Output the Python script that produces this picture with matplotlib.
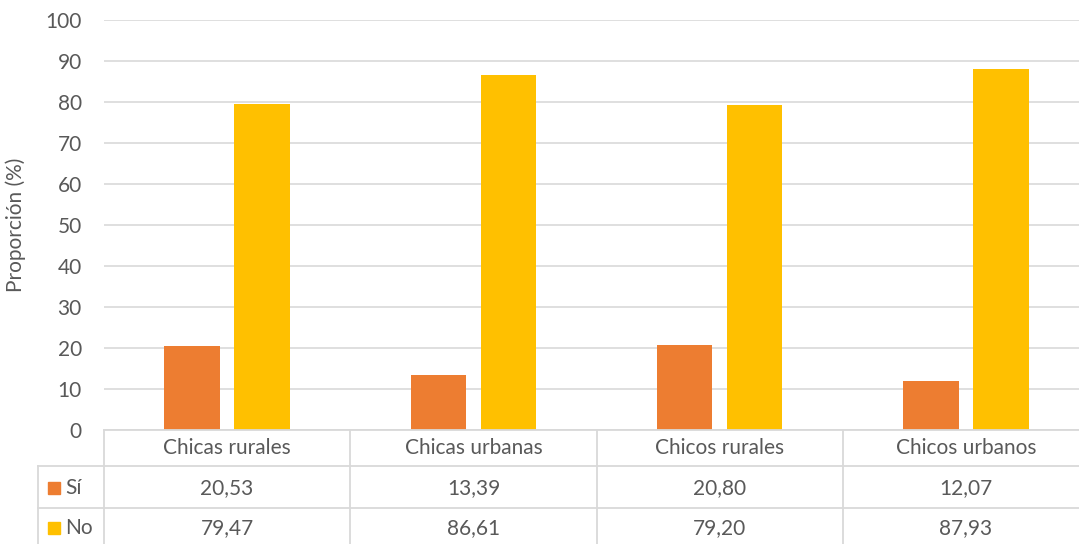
import matplotlib
matplotlib.use('Agg')
import matplotlib.pyplot as plt
import numpy as np

categories = ['Chicas rurales', 'Chicas urbanas', 'Chicos rurales', 'Chicos urbanos']
series_names = ['Sí', 'No']
si_values = [20.53, 13.39, 20.80, 12.07]
no_values = [79.47, 86.61, 79.20, 87.93]
y_ticks = [0, 10, 20, 30, 40, 50, 60, 70, 80, 90, 100]

colors = ['#ED7D31', '#FFC000']
text_color = '#595959'
grid_color = '#D9D9D9'

plt.rcParams['font.family'] = ['Lato', 'DejaVu Sans']
fs = 15

W, H = 1079, 544
fig = plt.figure(figsize=(W / 100, H / 100), dpi=100)

def fx(px):
    return px / W

def fy(py):
    return 1 - py / H

# plot area in pixels: x 104..1089, y 20..430
ax = fig.add_axes([fx(104), fy(430), fx(1089) - fx(104), fy(20) - fy(430)])

x = np.arange(len(categories))
width = 0.225
offset = 0.142
ax.bar(x - offset, si_values, width, color=colors[0], zorder=3)
ax.bar(x + offset, no_values, width, color=colors[1], zorder=3)

ax.set_xlim(-0.5, len(categories) - 0.5)
ax.set_ylim(0, 100)
ax.set_yticks(y_ticks)
ax.set_xticks([])
ax.tick_params(axis='y', length=0, pad=16, labelsize=fs, labelcolor=text_color)
ax.yaxis.grid(True, color=grid_color, linewidth=1.2, zorder=0)
for s in ax.spines.values():
    s.set_visible(False)
ax.set_ylabel('Proporción (%)', fontsize=fs, color=text_color, labelpad=14)

# data table under the axis
line_kw = dict(color=grid_color, linewidth=1.3, transform=fig.transFigure, clip_on=False)
col_edges = [104, 350, 597, 843, 1089]
fig.add_artist(plt.Line2D([fx(104), fx(1089)], [fy(430), fy(430)], **line_kw))
for yy in [466, 508, 546]:
    fig.add_artist(plt.Line2D([fx(38), fx(1089)], [fy(yy), fy(yy)], **line_kw))
fig.add_artist(plt.Line2D([fx(38), fx(38)], [fy(466), fy(546)], **line_kw))
for xe in col_edges[:-1]:
    fig.add_artist(plt.Line2D([fx(xe), fx(xe)], [fy(430), fy(546)], **line_kw))

for i, cat in enumerate(categories):
    cx = (col_edges[i] + col_edges[i + 1]) / 2
    fig.text(fx(cx), fy(448), cat, ha='center', va='center', fontsize=fs, color=text_color)
    fig.text(fx(cx), fy(488), f'{si_values[i]:.2f}'.replace('.', ','), ha='center', va='center',
             fontsize=fs, color=text_color)
    fig.text(fx(cx), fy(528), f'{no_values[i]:.2f}'.replace('.', ','), ha='center', va='center',
             fontsize=fs, color=text_color)

for name, col, yy in zip(series_names, colors, [488, 528]):
    fig.add_artist(plt.Rectangle((fx(48), fy(yy + 6)), fx(12), 12 / H, color=col,
                                 transform=fig.transFigure))
    fig.text(fx(65), fy(yy), name, ha='left', va='center', fontsize=fs, color=text_color)

fig.savefig('out.png', dpi=100)
